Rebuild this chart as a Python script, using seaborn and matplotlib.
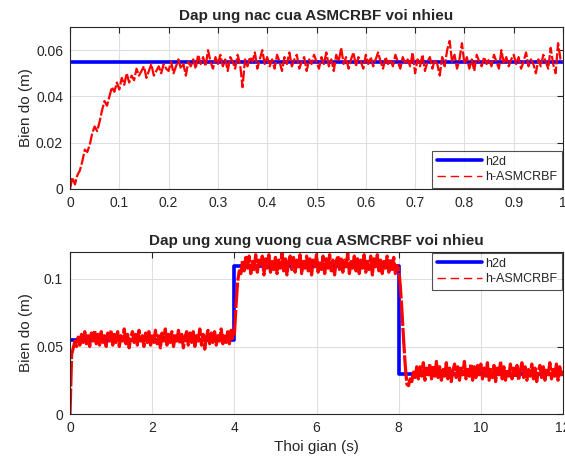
import numpy as np
import matplotlib
matplotlib.use("Agg")
import matplotlib.pyplot as plt
import seaborn as sns
from matplotlib.ticker import FuncFormatter

# --- data ---
# top: step response, sampled every 0.005 s
step_dt = 0.005
step_ref = 0.055
step_out = [
    0.000, 0.005, 0.002, 0.006, 0.008, 0.012, 0.017, 0.016, 0.019, 0.024,
    0.027, 0.025, 0.029, 0.034, 0.038, 0.036, 0.040, 0.044, 0.042, 0.046,
    0.043, 0.048, 0.045, 0.050, 0.046, 0.049, 0.047, 0.052, 0.049, 0.051,
    0.053, 0.048, 0.051, 0.054, 0.049, 0.051, 0.053, 0.050, 0.054, 0.052,
    0.051, 0.055, 0.050, 0.053, 0.056, 0.052, 0.054, 0.049, 0.055, 0.053,
    0.056, 0.052, 0.058, 0.054, 0.057, 0.053, 0.060, 0.055, 0.052, 0.057,
    0.054, 0.058, 0.053, 0.056, 0.051, 0.057, 0.055, 0.052, 0.058, 0.054,
    0.044, 0.056, 0.053, 0.057, 0.055, 0.059, 0.052, 0.056, 0.060, 0.054,
    0.057, 0.053, 0.056, 0.052, 0.058, 0.055, 0.051, 0.057, 0.054, 0.059,
    0.053, 0.056, 0.058, 0.052, 0.055, 0.057, 0.051, 0.056, 0.054, 0.058,
    0.055, 0.052, 0.057, 0.054, 0.059, 0.053, 0.056, 0.051, 0.058, 0.055,
    0.061, 0.054, 0.057, 0.052, 0.056, 0.059, 0.053, 0.057, 0.055, 0.052,
    0.058, 0.054, 0.057, 0.053, 0.056, 0.059, 0.055, 0.052, 0.057, 0.054,
    0.056, 0.053, 0.058, 0.055, 0.052, 0.057, 0.054, 0.056, 0.053, 0.059,
    0.050, 0.056, 0.053, 0.058, 0.051, 0.055, 0.057, 0.052, 0.056, 0.054,
    0.049, 0.057, 0.053, 0.060, 0.064, 0.055, 0.058, 0.052, 0.056, 0.063,
    0.054, 0.057, 0.052, 0.056, 0.051, 0.058, 0.055, 0.053, 0.057, 0.054,
    0.056, 0.053, 0.058, 0.055, 0.052, 0.060, 0.054, 0.057, 0.053, 0.056,
    0.058, 0.054, 0.057, 0.052, 0.055, 0.059, 0.053, 0.056, 0.054, 0.050,
    0.056, 0.053, 0.058, 0.055, 0.052, 0.061, 0.054, 0.050, 0.063, 0.056,
    0.055,
]

# bottom: square-wave response, sampled every 0.04 s
sq_dt = 0.04
sq_ref_t = [0, 4, 8, 12]
sq_ref = [0.055, 0.11, 0.03, 0.03]
sq_out = [
    0.000, 0.044, 0.049, 0.054, 0.050, 0.057, 0.051, 0.059, 0.053, 0.061, 0.052, 0.058, 0.050, 0.060, 0.054, 0.062, 0.052, 0.059, 0.051, 0.061, 0.053, 0.058, 0.050, 0.060, 0.054,
    0.062, 0.051, 0.059, 0.053, 0.061, 0.050, 0.058, 0.054, 0.063, 0.052, 0.059, 0.049, 0.057, 0.061, 0.053, 0.059, 0.051, 0.062, 0.054, 0.058, 0.050, 0.060, 0.053, 0.061, 0.051,
    0.059, 0.053, 0.062, 0.052, 0.058, 0.049, 0.060, 0.054, 0.063, 0.051, 0.059, 0.053, 0.061, 0.050, 0.058, 0.054, 0.062, 0.052, 0.059, 0.049, 0.057, 0.061, 0.051, 0.060, 0.053,
    0.061, 0.050, 0.058, 0.054, 0.063, 0.051, 0.059, 0.048, 0.057, 0.062, 0.052, 0.060, 0.053, 0.061, 0.051, 0.058, 0.054, 0.063, 0.052, 0.059, 0.053, 0.061, 0.052, 0.062, 0.056,
    0.058, 0.080, 0.098, 0.106, 0.104, 0.114, 0.106, 0.116, 0.108, 0.117, 0.104, 0.113, 0.107, 0.118, 0.105, 0.114, 0.109, 0.117, 0.103, 0.115, 0.108, 0.118, 0.105, 0.113, 0.107,
    0.116, 0.104, 0.114, 0.108, 0.119, 0.106, 0.115, 0.103, 0.113, 0.117, 0.107, 0.116, 0.105, 0.114, 0.109, 0.118, 0.104, 0.113, 0.108, 0.117, 0.106, 0.115, 0.103, 0.114, 0.109,
    0.118, 0.105, 0.113, 0.107, 0.117, 0.104, 0.115, 0.108, 0.118, 0.106, 0.114, 0.103, 0.113, 0.117, 0.107, 0.116, 0.105, 0.114, 0.109, 0.119, 0.104, 0.113, 0.108, 0.117, 0.106,
    0.115, 0.104, 0.114, 0.108, 0.118, 0.105, 0.113, 0.107, 0.117, 0.103, 0.115, 0.109, 0.118, 0.106, 0.114, 0.104, 0.113, 0.108, 0.117, 0.105, 0.115, 0.107, 0.116, 0.104, 0.110,
    0.108, 0.095, 0.076, 0.055, 0.036, 0.022, 0.021, 0.026, 0.024, 0.031, 0.027, 0.035, 0.026, 0.035, 0.028, 0.038, 0.025, 0.034, 0.029, 0.037, 0.026, 0.036, 0.028, 0.039, 0.027,
    0.035, 0.025, 0.033, 0.028, 0.038, 0.026, 0.034, 0.024, 0.032, 0.037, 0.027, 0.035, 0.025, 0.034, 0.029, 0.039, 0.026, 0.033, 0.028, 0.037, 0.025, 0.035, 0.027, 0.036, 0.029,
    0.037, 0.026, 0.034, 0.028, 0.038, 0.025, 0.033, 0.027, 0.036, 0.024, 0.034, 0.029, 0.039, 0.026, 0.035, 0.025, 0.033, 0.028, 0.037, 0.026, 0.034, 0.027, 0.036, 0.025, 0.032,
    0.038, 0.027, 0.035, 0.025, 0.033, 0.028, 0.037, 0.026, 0.034, 0.024, 0.032, 0.036, 0.027, 0.035, 0.025, 0.034, 0.029, 0.038, 0.026, 0.033, 0.028, 0.037, 0.025, 0.035, 0.029,
    0.032,
]

titles = ["Dap ung nac cua ASMCRBF voi nhieu", "Dap ung xung vuong cua ASMCRBF voi nhieu"]
labels = ["h2d", "h-ASMCRBF"]


def matlab_axes(ax):
    ax.set_facecolor("white")
    ax.grid(True, color="#dfdfdf", linewidth=0.8)
    for s in ax.spines.values():
        s.set_color("#262626")
        s.set_linewidth(0.8)
        s.set_visible(True)
    ax.tick_params(direction="in", top=True, right=True, length=4, width=0.8,
                   colors="#262626", labelsize=10, pad=5)
    ax.xaxis.set_major_formatter(FuncFormatter(lambda v, p: "%g" % round(v, 4)))
    ax.yaxis.set_major_formatter(FuncFormatter(lambda v, p: "%g" % round(v, 4)))


def matlab_legend(ax, loc):
    leg = ax.legend(loc=loc, fontsize=9, frameon=True, fancybox=False,
                    edgecolor="#262626", borderaxespad=0.1, handlelength=3.6,
                    handletextpad=0.3, labelspacing=0.3, borderpad=0.35)
    leg.get_frame().set_linewidth(0.8)
    handles = leg.legend_handles
    handles[0].set_linewidth(2.6)
    handles[1].set_linewidth(1.0)
    handles[1].set_dashes((6, 3.5))
    return leg


sns.set_style("whitegrid")
plt.rcParams["font.family"] = ["Liberation Sans", "DejaVu Sans"]

fig = plt.figure(figsize=(5.65, 4.57), dpi=100)
ax1 = fig.add_axes([70 / 565, 1 - 189 / 457, 493 / 565, 162 / 457])
ax2 = fig.add_axes([70 / 565, 1 - 414 / 457, 493 / 565, 162 / 457])

# top plot
t1 = np.arange(len(step_out)) * step_dt
sns.lineplot(x=[0, 1], y=[step_ref, step_ref], ax=ax1, color="#0000ff", linewidth=2.6, label=labels[0])
sns.lineplot(x=t1, y=step_out, ax=ax1, color="#ff0000", linewidth=1.6,
             estimator=None, sort=False, label=labels[1])
ax1.lines[1].set_dashes((5, 1))
ax1.set_xlim(0, 1)
ax1.set_ylim(0, 0.07)
ax1.set_xticks(np.arange(0, 1.01, 0.1))
ax1.set_yticks([0, 0.02, 0.04, 0.06])
ax1.set_title(titles[0], fontsize=11, fontweight="bold", pad=5)
ax1.set_ylabel("Bien do (m)", fontsize=11, color="#262626", labelpad=2)
ax1.set_xlabel("")
matlab_axes(ax1)
matlab_legend(ax1, "lower right")

# bottom plot
t2 = np.arange(len(sq_out)) * sq_dt
ax2.step(sq_ref_t, sq_ref, where="post", color="#0000ff", linewidth=2.6, label=labels[0])
sns.lineplot(x=t2, y=sq_out, ax=ax2, color="#ff0000", linewidth=2.3,
             estimator=None, sort=False, label=labels[1])
ax2.lines[1].set_dashes((8, 0.6))
ax2.set_xlim(0, 12)
ax2.set_ylim(0, 0.12)
ax2.set_xticks([0, 2, 4, 6, 8, 10, 12])
ax2.set_yticks([0, 0.05, 0.1])
ax2.set_title(titles[1], fontsize=11, fontweight="bold", pad=5)
ax2.set_ylabel("Bien do (m)", fontsize=11, color="#262626", labelpad=2)
ax2.set_xlabel("Thoi gian (s)", fontsize=11, color="#262626")
matlab_axes(ax2)
matlab_legend(ax2, "upper right")

fig.savefig("out.png", dpi=100)
